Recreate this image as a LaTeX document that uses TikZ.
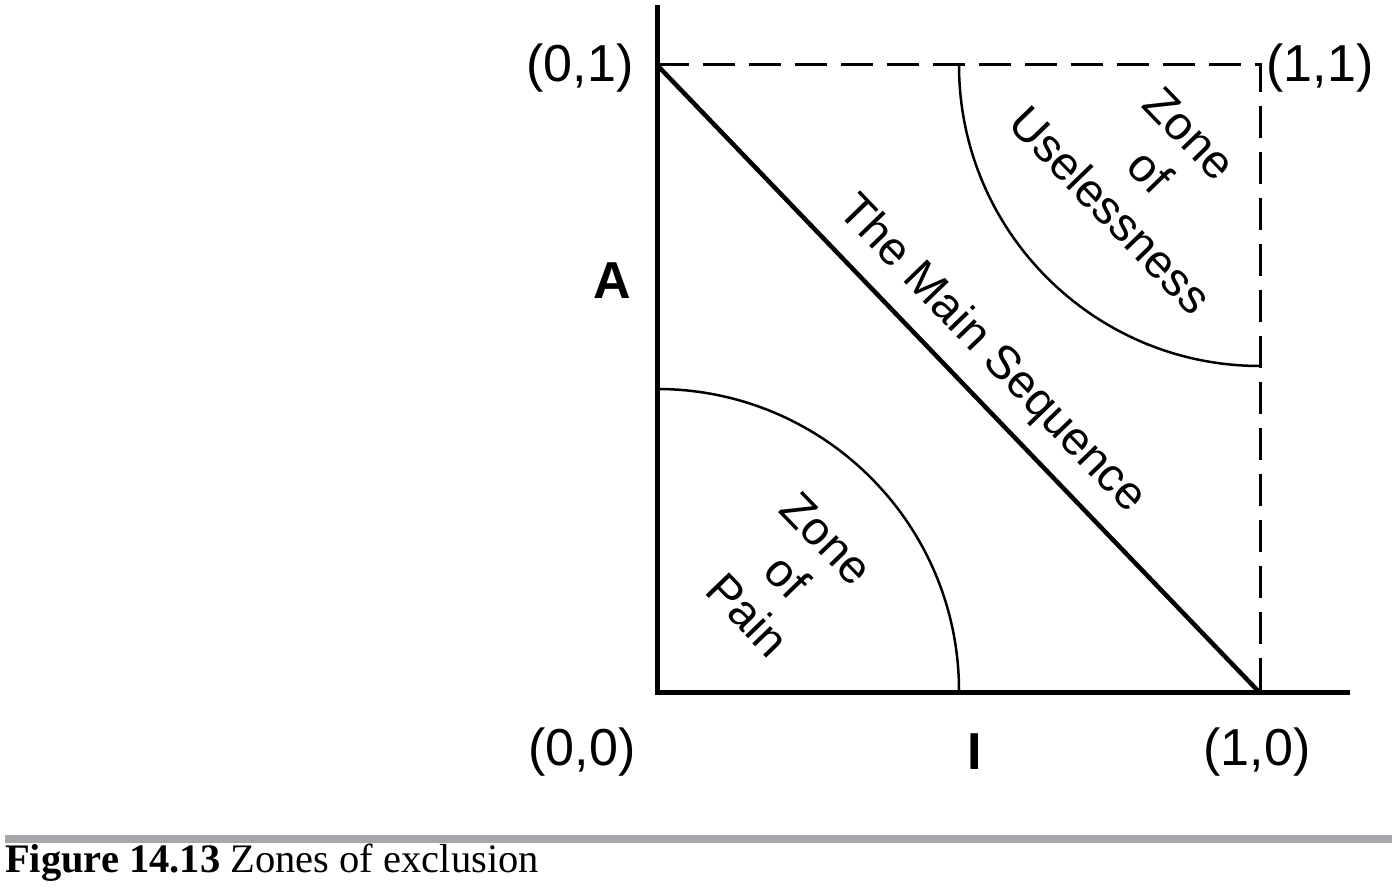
\documentclass[tikz,border=0pt]{standalone}
\usepackage{fontspec}
\setmainfont{Liberation Serif}
\newfontfamily\arialf{Liberation Sans}
\begin{document}
\begin{tikzpicture}[x=1pt,y=1pt,
  axis/.style={line width=5pt},
  diag/.style={line width=4.5pt},
  zonearc/.style={line width=2.5pt},
  dashline/.style={line width=3pt, dash pattern=on 32pt off 14pt},
  coordlbl/.style={font=\arialf\fontsize{52}{56}\selectfont, inner sep=0pt},
  axlbl/.style={font=\arialf\bfseries\fontsize{52}{56}\selectfont, inner sep=0pt},
  rotlbl/.style={font=\arialf\fontsize{47}{55}\selectfont, inner sep=0pt, rotate=-46, align=center}]
\useasboundingbox (0,0) rectangle (1392,894);
% key points
\coordinate (O) at (657,201);
\coordinate (ytop) at (657,889);
\coordinate (P01) at (657,829);
\coordinate (P11) at (1260,829);
\coordinate (P10) at (1260,201);
\coordinate (xend) at (1350,201);
\coordinate (painTop) at (657,505);
\coordinate (uselStart) at (959,829);
% dashed square
\draw[dashline] (P01) -- (P11) -- (P10);
% arcs
\draw[zonearc] (painTop) arc[start angle=90, end angle=0, radius=302];
\draw[zonearc] (uselStart) arc[start angle=180, end angle=270, radius=301];
% axes
\draw[axis] (ytop) -- (O) -- (xend);
% main sequence
\draw[diag] (P01) -- (P10);
% labels
\node[coordlbl] (l01) at (580,826) {(0,1)};
\node[coordlbl] (l11) at (1320,826) {(1,1)};
\node[coordlbl] (l00) at (582,142) {(0,0)};
\node[coordlbl] (l10) at (1257,142) {(1,0)};
\node[axlbl] (lI) at (975,142) {I};
\node[axlbl] (lA) at (612,613) {A};
\node[rotlbl] (ms) at (991,539) {The Main Sequence};
\node[rotlbl] (zu) at (1150,722) {Zone\\of\\Uselessness};
\node[rotlbl] (zp) at (787,317) {Zone\\of\\Pain};
% caption
\fill[fill={rgb,255:red,167;green,167;blue,171}] (5,51) rectangle (1392,59);
\node[anchor=base west, inner sep=0pt, font=\fontsize{40.5}{44}\selectfont] (cap) at (5,21) {\textbf{Figure 14.13} Zones of exclusion};
\end{tikzpicture}
\end{document}
